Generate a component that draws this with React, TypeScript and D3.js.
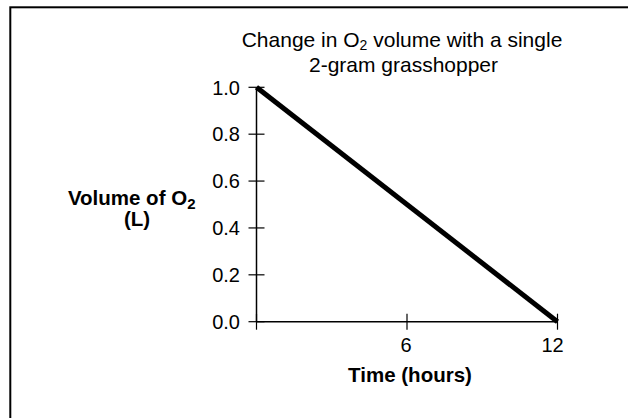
import React from "react";
import * as d3 from "d3";

const timeHours = [0, 12];
const volumeO2 = [1.0, 0.0];
const xTicks = [6, 12];
const yTicks = [0.0, 0.2, 0.4, 0.6, 0.8, 1.0];

const W = 628;
const H = 418;
const FONT = "Liberation Sans, Arial, Helvetica, sans-serif";

export default function App() {
  const x = d3.scaleLinear().domain([0, 12]).range([256.5, 557.5]);
  const y = d3.scaleLinear().domain([0, 1]).range([321.7, 87.3]);
  const pts = timeHours.map((t, i) => [t, volumeO2[i]] as [number, number]);
  const line = d3
    .line<[number, number]>()
    .x((d) => x(d[0]))
    .y((d) => y(d[1]));
  const tick = 8;
  return (
    <svg
      width={W}
      height={H}
      style={{ position: "absolute", left: 0, top: 0, background: "#fff" }}
      fontFamily={FONT}
    >
      <rect x={10.3} y={7.3} width={800} height={600} fill="none" stroke="#000" strokeWidth={2} />
      {/* title (two lines in one text) */}
      <text y={46.5} textAnchor="middle" fontSize={21} fill="#000">
        <tspan x={402}>Change in O</tspan>
        <tspan fontSize={14} dy={3}>2</tspan>
        <tspan dy={-3}> volume with a single</tspan>
        <tspan x={403.5} dy={25.5}>2-gram grasshopper</tspan>
      </text>
      {/* axes */}
      <line x1={x(0)} x2={x(0)} y1={y(1)} y2={y(0)} stroke="#000" strokeWidth={1.5} />
      <line x1={x(0)} x2={x(12)} y1={y(0)} y2={y(0)} stroke="#000" strokeWidth={1.5} />
      {yTicks.map((v) => (
        <g key={"y" + v}>
          <line x1={x(0) - tick} x2={x(0) + tick} y1={y(v)} y2={y(v)} stroke="#000" strokeWidth={1.2} />
          <text x={240} y={y(v)} dy="0.36em" textAnchor="end" fontSize={20} fill="#000">
            {d3.format(".1f")(v)}
          </text>
        </g>
      ))}
      <line x1={x(0)} x2={x(0)} y1={y(0) - tick} y2={y(0) + tick} stroke="#000" strokeWidth={1.2} />
      {xTicks.map((v) => (
        <g key={"x" + v}>
          <line x1={x(v)} x2={x(v)} y1={y(0) - tick} y2={y(0) + tick} stroke="#000" strokeWidth={1.2} />
          <text x={x(v) - (v >= 10 ? 5 : 1)} y={352} textAnchor="middle" fontSize={20} fill="#000">
            {v}
          </text>
        </g>
      ))}
      {/* axis labels */}
      <text x={410} y={382} textAnchor="middle" fontSize={20.5} fontWeight="bold" fill="#000">
        Time (hours)
      </text>
      <text y={205} textAnchor="middle" fontSize={20.5} fontWeight="bold" fill="#000">
        <tspan x={131.7}>Volume of O</tspan>
        <tspan fontSize={15} dy={4}>2</tspan>
        <tspan x={137} dy={17}>(L)</tspan>
      </text>
      {/* data line */}
      <path d={line(pts) || ""} fill="none" stroke="#000" strokeWidth={5} strokeLinecap="butt" />
    </svg>
  );
}
